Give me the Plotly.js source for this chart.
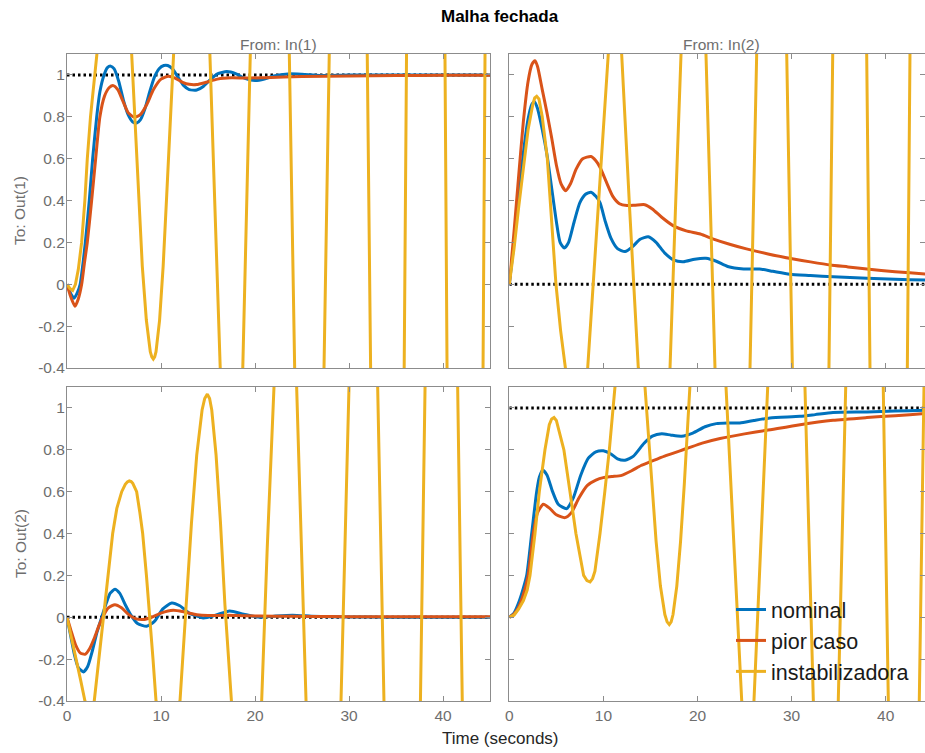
<!DOCTYPE html>
<html>
<head>
<meta charset="utf-8">
<script src="https://cdn.plot.ly/plotly-3.0.1.min.js"></script>
<style>html,body{margin:0;padding:0;background:#fff;}#chart{width:925px;height:753px;}</style>
</head>
<body>
<div id="chart"></div>
<script>
// ---------- data ----------
const seriesNames = ["nominal", "pior caso", "instabilizadora"];
const refT = [0, 45];
const refOne = [1, 1];
const refZero = [0, 0];

// From: In(1) -> To: Out(1)
const t11_nom = [0,0.4,0.75,1.1,1.4,1.7,1.95,2.37,2.73,3.16,3.5,3.94,4.3,4.65,5.0,5.5,6.0,6.5,7.0,7.41,7.8,8.3,8.8,9.3,9.8,10.3,10.71,11.2,11.8,12.4,13.0,13.8,14.5,15.3,16.0,17.0,18.0,19.0,20.0,21.0,22.0,23.5,25,27,30,35,40,45];
const y11_nom = [0,-0.045,-0.067,-0.04,0.0,0.1,0.2,0.4,0.6,0.8,0.92,1.0,1.035,1.042,1.03,0.97,0.88,0.81,0.775,0.77,0.785,0.84,0.92,0.99,1.03,1.045,1.045,1.03,0.99,0.95,0.93,0.928,0.945,0.98,1.005,1.016,1.005,0.982,0.973,0.98,0.995,1.005,1.003,0.997,1.0,1.0,1.0,1.0];
const t11_pior = [0,0.4,0.85,1.2,1.56,1.85,2.16,2.62,3.05,3.5,4.0,4.5,4.93,5.4,5.9,6.5,7.16,7.8,8.5,9.2,10.0,10.78,11.5,12.3,13.0,13.8,14.8,16,17.5,19,21,25,30,35,40,45];
const y11_pior = [0,-0.06,-0.105,-0.07,0.0,0.1,0.2,0.4,0.6,0.8,0.9,0.94,0.949,0.93,0.88,0.82,0.798,0.81,0.86,0.93,0.98,0.994,0.985,0.965,0.955,0.954,0.965,0.98,0.986,0.985,0.987,0.992,0.995,0.997,0.998,0.999];
const t11_inst = [0,0.3,0.6,0.9,1.2,1.56,1.9,2.16,2.5,2.9,3.16,5.0,6.88,7.17,7.59,8.01,8.44,8.86,9.02,9.18,9.33,9.47,9.85,10.23,10.61,10.99,11.24,13.3,15.2,16.3,17.5,18.7,19.5,21.6,23.65,24.22,25.8,27.34,27.9,30,31.94,32.3,34.1,35.87,36.12,38.2,40.21,40.43,42.4,44.26,44.47,45];
const y11_inst = [0,-0.02,-0.03,0.0,0.07,0.2,0.4,0.6,0.8,1.0,1.1,1.9,1.1,0.82,0.427,0.087,-0.171,-0.322,-0.347,-0.357,-0.347,-0.322,-0.171,0.087,0.427,0.82,1.1,2.9,1.1,-0.4,-1.2,-0.4,1.1,4,1.1,-0.4,-2.5,-0.4,1.1,6,1.1,-0.4,-4.5,-0.4,1.1,9,1.1,-0.4,-8,-0.4,1.1,5];

// From: In(2) -> To: Out(1)
const t12_nom = [0,0.5,1.0,1.5,2.0,2.4,2.66,3.0,3.5,4.0,4.5,5.0,5.4,5.85,6.3,6.9,7.5,8.1,8.68,9.2,9.64,10.2,10.8,11.5,12.3,13.1,13.9,14.77,15.6,16.5,17.5,18.5,19.7,20.9,22,23.2,24.9,26.6,28,29.8,32,34.4,38,41,44.2,45];
const y12_nom = [0,0.2,0.42,0.63,0.79,0.86,0.872,0.84,0.74,0.62,0.46,0.3,0.2,0.173,0.2,0.3,0.39,0.43,0.44,0.42,0.39,0.3,0.22,0.17,0.156,0.18,0.215,0.227,0.2,0.15,0.115,0.108,0.12,0.124,0.11,0.085,0.073,0.073,0.062,0.048,0.042,0.036,0.029,0.024,0.02,0.019];
const t12_pior = [0,0.5,1.0,1.5,2.0,2.4,2.73,3.0,3.5,4.0,4.5,5.0,5.5,5.99,6.5,7.1,7.8,8.68,9.2,9.64,10.3,11,11.7,12.5,13.4,14.4,15.2,16.2,17.4,18.8,20.3,21.7,23.5,25.2,27.5,30.2,32,34.1,36,38,41,44.2,45];
const y12_pior = [0,0.25,0.52,0.78,0.97,1.05,1.068,1.04,0.93,0.82,0.7,0.57,0.48,0.447,0.48,0.55,0.6,0.61,0.59,0.559,0.49,0.42,0.385,0.376,0.378,0.38,0.36,0.32,0.28,0.255,0.24,0.216,0.19,0.169,0.145,0.121,0.107,0.092,0.083,0.073,0.06,0.049,0.047];
const t12_inst = [0,0.5,1,1.5,2,2.5,2.7,2.91,3.15,3.5,4.04,4.5,4.96,5.45,5.92,7.1,8.33,9.4,10.52,11.2,11.94,12.8,13.71,15.4,17.08,17.65,18.25,19.6,20.9,21.86,23.7,25.58,26.29,27.9,29.48,30.08,32,33.97,34.37,36.2,37.98,38.33,40.3,42.3,42.58,44.4,45];
const y12_inst = [0,0.17,0.37,0.57,0.74,0.86,0.89,0.898,0.885,0.8,0.6,0.3,0,-0.22,-0.4,-0.8,-0.4,0.35,1.1,1.3,1.1,0.35,-0.4,-1.0,-0.4,0.35,1.1,2.0,1.1,-0.4,-1.8,-0.4,1.1,3,1.1,-0.4,-3,-0.4,1.1,4.5,1.1,-0.4,-6,-0.4,1.1,8,7];

// From: In(1) -> To: Out(2)
const t21_nom = [0,0.4,0.8,1.2,1.74,2.2,2.7,3.2,3.69,4.2,4.6,5.1,5.6,6.2,6.8,7.5,8.48,9.3,10.2,11.14,12,13,14.5,15.8,17.3,18.8,20.5,22,24,26,28,32,36,40,45];
const y21_nom = [0,-0.09,-0.18,-0.24,-0.261,-0.235,-0.16,-0.07,0.0,0.07,0.115,0.134,0.115,0.06,0.01,-0.03,-0.043,-0.02,0.04,0.068,0.055,0.02,-0.003,0.01,0.03,0.015,0.0,0.005,0.01,0.005,0.002,0.001,0,0,0];
const t21_pior = [0,0.4,0.9,1.4,1.91,2.4,2.9,3.4,3.9,4.4,5.1,5.8,6.5,7.2,8.1,9.0,10.0,11.3,12.5,13.8,15,17,19,22,26,30,35,40,45];
const y21_pior = [0,-0.06,-0.13,-0.17,-0.177,-0.15,-0.1,-0.04,0.01,0.045,0.06,0.045,0.015,-0.005,-0.011,0.0,0.02,0.033,0.025,0.012,0.008,0.01,0.007,0.005,0.004,0.003,0.003,0.002,0.002];
const t21_inst = [0,0.5,0.96,1.45,1.91,2.4,2.9,3.4,3.87,4.35,4.86,5.3,5.82,6.2,6.42,6.63,6.83,7.0,7.41,7.75,8.05,8.45,8.83,9.15,9.47,10.75,12.02,12.34,12.67,13.24,13.8,14.37,14.65,14.93,15.17,15.4,15.86,16.33,16.8,17.08,17.34,19.0,20.71,21.3,22.02,23.2,24.43,25.43,27.3,29.15,30.0,31.5,33.05,33.72,35.7,37.6,38.09,39.8,41.56,42.05,43.8,45];
const y21_inst = [0,-0.1,-0.2,-0.3,-0.4,-0.48,-0.4,-0.2,0,0.2,0.4,0.52,0.6,0.635,0.646,0.651,0.648,0.64,0.6,0.5,0.4,0.2,0,-0.2,-0.4,-0.85,-0.4,-0.18,0.06,0.45,0.775,0.99,1.045,1.066,1.045,0.99,0.775,0.45,0.06,-0.18,-0.4,-1.4,-0.4,0.33,1.1,1.6,1.1,-0.4,-2.2,-0.4,1.1,2.8,1.1,-0.4,-3.5,-0.4,1.1,4.5,1.1,-0.4,-5.5,-3];

// From: In(2) -> To: Out(2)
const t22_nom = [0,0.5,1.0,1.5,1.85,2.38,2.91,3.2,3.55,4.0,4.6,5.2,6.1,6.8,7.6,8.4,9.2,9.99,10.8,11.5,12.3,13.2,14.3,15.2,16.2,17.2,18.3,19.5,20.8,22,23.2,24.5,26,27.7,30.9,32.5,34.4,38,41,44.2,45];
const y22_nom = [0,0.02,0.07,0.14,0.2,0.4,0.6,0.67,0.702,0.68,0.6,0.54,0.519,0.57,0.68,0.76,0.79,0.795,0.78,0.757,0.75,0.77,0.83,0.865,0.877,0.87,0.865,0.88,0.91,0.925,0.928,0.928,0.94,0.952,0.96,0.968,0.978,0.981,0.985,0.989,0.99];
const t22_pior = [0,0.5,1.0,1.5,2.0,2.55,3.0,3.62,4.3,5.0,5.92,6.6,7.4,8.3,9.2,9.99,10.9,11.94,13.0,14.0,14.95,16.5,18.85,20.5,22.4,25,27.35,30.9,34.4,38,41,44.2,45];
const y22_pior = [0,0.015,0.05,0.11,0.2,0.4,0.5,0.54,0.52,0.49,0.476,0.5,0.57,0.63,0.655,0.667,0.672,0.678,0.7,0.725,0.742,0.77,0.806,0.832,0.854,0.876,0.893,0.92,0.941,0.954,0.963,0.973,0.975];
const t22_inst = [0,0.5,1.0,1.5,1.9,2.2,2.73,3.19,3.79,4.25,4.5,4.75,5.0,5.25,5.8,6.45,7.08,7.9,8.25,8.58,8.85,9.1,9.64,10.15,10.63,11.23,12.8,14.42,14.66,15.13,15.6,16.06,16.53,16.77,17.0,17.2,17.4,17.8,18.2,18.6,19.0,19.2,21.1,23.03,24.7,25.3,26.0,27.46,29.4,31.42,32.31,33.6,34.96,35.75,37.7,39.74,40.28,41.9,43.57,44.07,45];
const y22_inst = [0,0.01,0.04,0.08,0.13,0.2,0.4,0.6,0.8,0.92,0.947,0.954,0.94,0.9,0.8,0.6,0.4,0.2,0.175,0.169,0.185,0.22,0.4,0.6,0.8,1.1,1.6,1.1,0.941,0.637,0.363,0.149,0.013,-0.022,-0.035,-0.022,0.013,0.149,0.363,0.637,0.941,1.1,2.6,1.1,-0.4,-0.6,-0.4,1.1,3.8,1.1,-0.4,-1.3,-0.4,1.1,5.5,1.1,-0.4,-2.5,-0.4,1.1,2.5];

// tick labels
const xTickVals = [0, 10, 20, 30, 40];
const xTickText = ["0", "10", "20", "30", "40"];
const yTickVals = [-0.4, -0.2, 0, 0.2, 0.4, 0.6, 0.8, 1];
const yTickText = ["-0.4", "-0.2", "0", "0.2", "0.4", "0.6", "0.8", "1"];

// ---------- styling ----------
const FONT = "Liberation Sans, Arial, Helvetica, sans-serif";
const colors = ["#0072BD", "#D95319", "#EDB120"];
const axisGray = "#8c8c8c";
const labelGray = "#6e6e6e";
const W = 925, H = 753;
const px = v => v / W;
const py = v => 1 - v / H;

const panels = [
  {xa: "x",  ya: "y",  ref: refOne,  s: [[t11_nom,y11_nom],[t11_pior,y11_pior],[t11_inst,y11_inst]]},
  {xa: "x2", ya: "y2", ref: refZero, s: [[t12_nom,y12_nom],[t12_pior,y12_pior],[t12_inst,y12_inst]]},
  {xa: "x3", ya: "y3", ref: refZero, s: [[t21_nom,y21_nom],[t21_pior,y21_pior],[t21_inst,y21_inst]]},
  {xa: "x4", ya: "y4", ref: refOne,  s: [[t22_nom,y22_nom],[t22_pior,y22_pior],[t22_inst,y22_inst]]}
];

const traces = [];
panels.forEach((p) => {
  traces.push({x: refT, y: p.ref, xaxis: p.xa, yaxis: p.ya, mode: "lines", showlegend: false,
    hoverinfo: "skip", line: {color: "#000", width: 3, dash: "2.5px,3px"}});
});
panels.forEach((p, pi) => {
  p.s.forEach((d, si) => {
    traces.push({
      x: d[0], y: d[1], xaxis: p.xa, yaxis: p.ya, mode: "lines",
      name: seriesNames[si], showlegend: pi === 3,
      line: {color: colors[si], width: 3, shape: si === 2 ? "linear" : "spline", smoothing: 0.6}
    });
  });
});

function xax(domain, range, labels, anchor) {
  return {domain: domain, range: range, anchor: anchor, tickvals: xTickVals, ticktext: xTickText,
    showticklabels: labels, ticks: "inside", ticklen: 5, tickcolor: axisGray, tickwidth: 1,
    showline: true, linecolor: axisGray, linewidth: 1, mirror: "ticks",
    showgrid: false, zeroline: false, fixedrange: true,
    tickfont: {family: FONT, size: 15.5, color: labelGray}};
}
function yax(domain, labels, anchor) {
  return {domain: domain, range: [-0.4, 1.1], anchor: anchor, tickvals: yTickVals, ticktext: yTickText,
    showticklabels: labels, ticks: "inside", ticklen: 5, tickcolor: axisGray, tickwidth: 1,
    showline: true, linecolor: axisGray, linewidth: 1, mirror: "ticks",
    showgrid: false, zeroline: false, fixedrange: true, ticklabelstandoff: -2,
    tickfont: {family: FONT, size: 15.5, color: labelGray}};
}

const xL = [px(67), px(490)];
const xR = [px(509.3), 1];
const yT = [py(368), py(54)];
const yB = [py(701), py(387)];
const rightMax = (925 - 509.3) / 9.41;

const layout = {
  width: W, height: H,
  margin: {l: 0, r: 0, t: 0, b: 0},
  paper_bgcolor: "#fff", plot_bgcolor: "#fff",
  font: {family: FONT, color: "#262626"},
  showlegend: true,
  legend: {x: px(731), y: py(589), xanchor: "left", yanchor: "top", bgcolor: "rgba(0,0,0,0)",
    borderwidth: 0, font: {family: FONT, size: 21.5, color: "#1a1a1a"}},
  xaxis:  xax(xL, [0, 45], false, "y"),
  yaxis:  yax(yT, true, "x"),
  xaxis2: xax(xR, [0, rightMax], false, "y2"),
  yaxis2: yax(yT, false, "x2"),
  xaxis3: xax(xL, [0, 45], true, "y3"),
  yaxis3: yax(yB, true, "x3"),
  xaxis4: xax(xR, [0, rightMax], true, "y4"),
  yaxis4: yax(yB, false, "x4"),
  annotations: [
    {text: "<b>Malha fechada</b>", x: px(500), y: py(17), xref: "paper", yref: "paper", showarrow: false,
      xanchor: "center", yanchor: "middle", font: {family: FONT, size: 17, color: "#000"}},
    {text: "From: In(1)", x: px(278.5), y: py(45), xref: "paper", yref: "paper", showarrow: false,
      xanchor: "center", yanchor: "middle", font: {family: FONT, size: 15.5, color: labelGray}},
    {text: "From: In(2)", x: px(721), y: py(45), xref: "paper", yref: "paper", showarrow: false,
      xanchor: "center", yanchor: "middle", font: {family: FONT, size: 15.5, color: labelGray}},
    {text: "To: Out(1)", x: px(20), y: py(211), xref: "paper", yref: "paper", showarrow: false, textangle: -90,
      xanchor: "center", yanchor: "middle", font: {family: FONT, size: 15.5, color: labelGray}},
    {text: "To: Out(2)", x: px(20), y: py(544), xref: "paper", yref: "paper", showarrow: false, textangle: -90,
      xanchor: "center", yanchor: "middle", font: {family: FONT, size: 15.5, color: labelGray}},
    {text: "Time (seconds)", x: px(500), y: py(738), xref: "paper", yref: "paper", showarrow: false,
      xanchor: "center", yanchor: "middle", font: {family: FONT, size: 17, color: "#262626"}}
  ]
};

Plotly.newPlot("chart", traces, layout, {staticPlot: true, displayModeBar: false});
</script>
</body>
</html>
